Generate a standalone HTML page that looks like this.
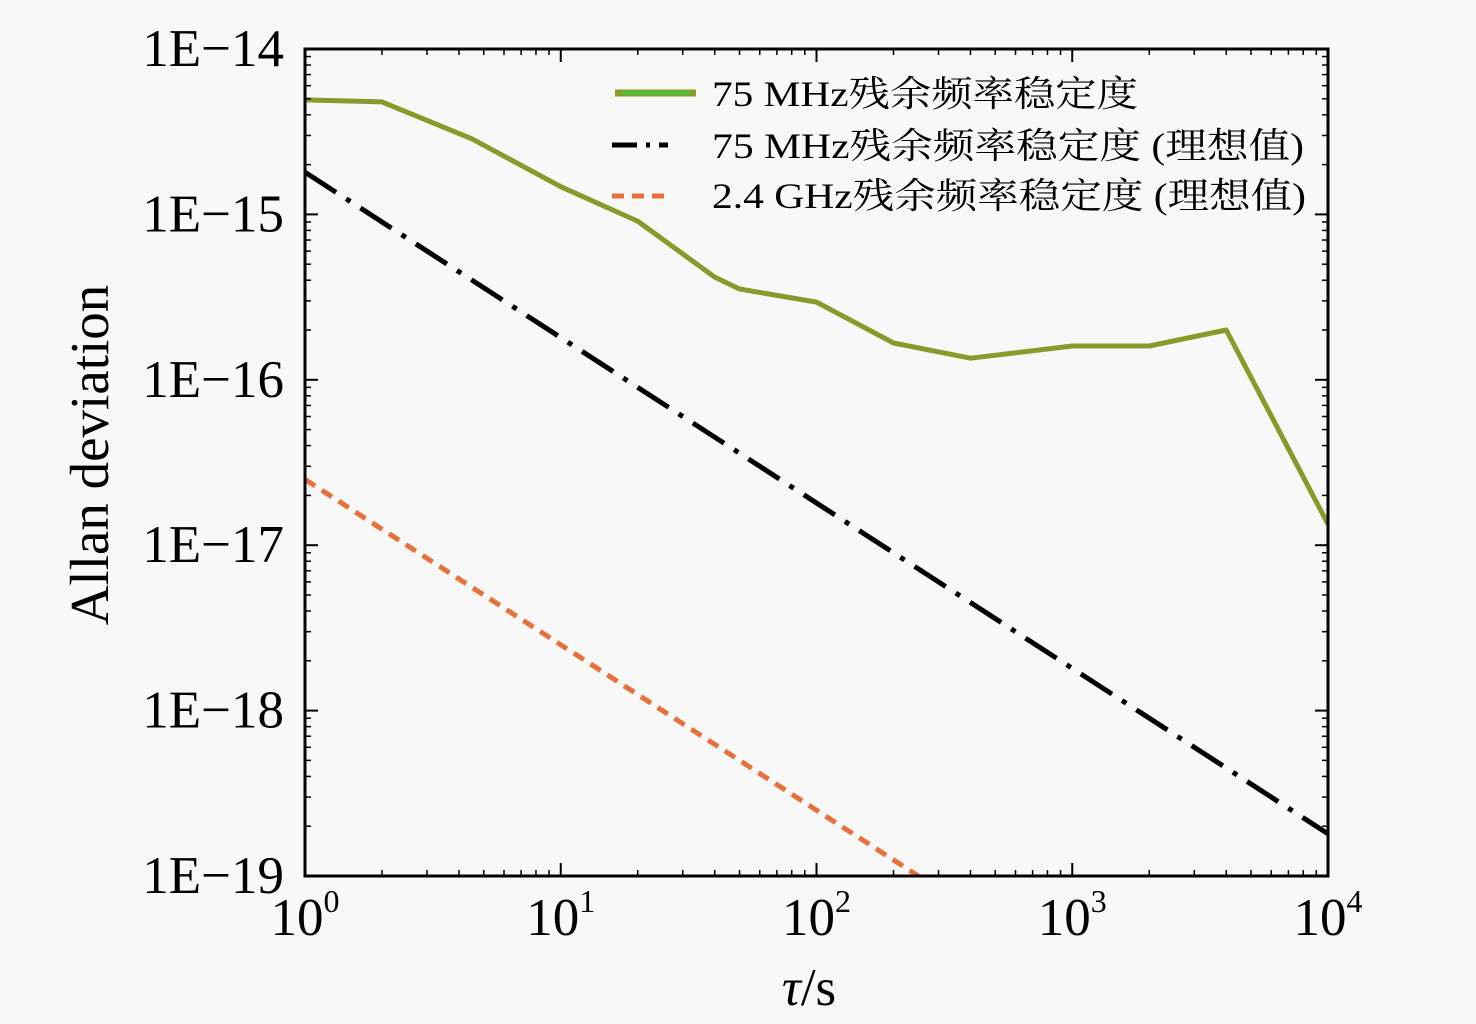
<!DOCTYPE html>
<html><head><meta charset="utf-8"><style>
html,body{margin:0;padding:0;background:#f8f8f8;}
svg{display:block;font-family:"Liberation Serif","Noto Serif CJK SC",serif;}
</style></head><body>
<svg id="chart" width="1476" height="1024" viewBox="0 0 1476 1024">
<rect x="0" y="0" width="1476" height="1024" fill="#f8f8f8"/>
<g id="marks"></g>
<g id="axes"></g>
<g id="legend">
  <g>
    <line x1="615" y1="93" x2="696" y2="93" stroke="#8a9a2a" stroke-width="7"/>
    <line x1="622" y1="93" x2="690" y2="93" stroke="#4fbf3a" stroke-width="4"/>
    <text x="712" y="106" font-size="36" textLength="426" lengthAdjust="spacingAndGlyphs">75 MHz残余频率稳定度</text>
  </g>
  <g>
    <line x1="612" y1="145" x2="668" y2="145" stroke="#000" stroke-width="5" stroke-dasharray="25 9 4 9"/>
    <text x="712" y="158" font-size="36" textLength="592" lengthAdjust="spacingAndGlyphs">75 MHz残余频率稳定度 (理想值)</text>
  </g>
  <g>
    <line x1="612" y1="196" x2="666" y2="196" stroke="#e8703a" stroke-width="5" stroke-dasharray="12 8"/>
    <text x="712" y="208" font-size="36" textLength="594" lengthAdjust="spacingAndGlyphs">2.4 GHz残余频率稳定度 (理想值)</text>
  </g>
</g>
</svg>
<script>
const measuredTau = [1, 2, 4.5, 10, 20, 40, 50, 100, 200, 400, 1000, 2000, 4000, 10000];
const measuredDev = [4.92e-15, 4.79e-15, 2.86e-15, 1.47e-15, 9.1e-16, 4.18e-16, 3.54e-16, 2.95e-16, 1.67e-16, 1.35e-16, 1.6e-16, 1.6e-16, 2.0e-16, 1.34e-17];
const ideal75Tau = [1, 10, 100, 1000, 10000];
const ideal75Dev = [1.8e-15, 1.8e-16, 1.8e-17, 1.8e-18, 1.8e-19];
const ideal24Tau = [1, 10, 100, 250];
const ideal24Dev = [2.5e-17, 2.5e-18, 2.5e-19, 1.0e-19];
const xTickExps = [0, 1, 2, 3, 4];
const yTickLabels = ["1E\u221214", "1E\u221215", "1E\u221216", "1E\u221217", "1E\u221218", "1E\u221219"];
const yTickExps = [-14, -15, -16, -17, -18, -19];

const L = 305, R = 1328, T = 49, B = 876;
const xMin = 0, xMax = 4, yMin = -19, yMax = -14;
function xs(v){ return L + (Math.log10(v) - xMin) / (xMax - xMin) * (R - L); }
function ys(v){ return B - (Math.log10(v) - yMin) / (yMax - yMin) * (B - T); }
const NS = "http://www.w3.org/2000/svg";
function mk(tag, attrs, parent){ const e = document.createElementNS(NS, tag); for (const k in attrs) e.setAttribute(k, attrs[k]); parent.appendChild(e); return e; }

const marks = document.getElementById('marks');
const clip = mk('clipPath', {id: 'plotclip'}, marks);
mk('rect', {x: L, y: T, width: R - L, height: B - T}, clip);
const mg = mk('g', {'clip-path': 'url(#plotclip)'}, marks);
function pts(t, d){ return t.map((v, i) => xs(v).toFixed(1) + ',' + ys(d[i]).toFixed(1)).join(' '); }

const l1 = mk('polyline', {points: pts(measuredTau, measuredDev), fill: 'none', stroke: '#8a9a2a', 'stroke-width': 5, 'stroke-linejoin': 'round'}, mg);


const l2 = mk('polyline', {points: pts(ideal75Tau, ideal75Dev), fill: 'none', stroke: '#000', 'stroke-width': 5, 'stroke-dasharray': '37 12 5 12'}, mg);


const l3 = mk('polyline', {points: pts(ideal24Tau, ideal24Dev), fill: 'none', stroke: '#e8703a', 'stroke-width': 5, 'stroke-dasharray': '12 8'}, mg);



const ax = document.getElementById('axes');
const frame = mk('rect', {x: L, y: T, width: R - L, height: B - T, fill: 'none', stroke: '#000', 'stroke-width': 3}, ax);


for (let e = xMin; e <= xMax; e++) {
  const x = xs(Math.pow(10, e));
  mk('line', {x1: x, y1: B, x2: x, y2: B - 13, stroke: '#000', 'stroke-width': 2}, ax);
  mk('line', {x1: x, y1: T, x2: x, y2: T + 13, stroke: '#000', 'stroke-width': 2}, ax);
  if (e < xMax) for (let m = 2; m <= 9; m++) {
    const xm = xs(m * Math.pow(10, e));
    mk('line', {x1: xm, y1: B, x2: xm, y2: B - 6, stroke: '#000', 'stroke-width': 1.5}, ax);
    mk('line', {x1: xm, y1: T, x2: xm, y2: T + 6, stroke: '#000', 'stroke-width': 1.5}, ax);
  }
}
xTickExps.forEach(e => {
  const x = xs(Math.pow(10, e));
  const t = mk('text', {x: x, y: 935, 'font-size': 53, 'text-anchor': 'middle'}, ax);
  
  
  t.textContent = '10';
  const s = mk('tspan', {dy: -23, 'font-size': 32}, t);
  s.textContent = String(e);
});
for (let e = yMin; e <= yMax; e++) {
  const y = ys(Math.pow(10, e));
  mk('line', {x1: L, y1: y, x2: L + 13, y2: y, stroke: '#000', 'stroke-width': 2}, ax);
  mk('line', {x1: R, y1: y, x2: R - 13, y2: y, stroke: '#000', 'stroke-width': 2}, ax);
  if (e < yMax) for (let m = 2; m <= 9; m++) {
    const ym = ys(m * Math.pow(10, e));
    mk('line', {x1: L, y1: ym, x2: L + 6, y2: ym, stroke: '#000', 'stroke-width': 1.5}, ax);
    mk('line', {x1: R, y1: ym, x2: R - 6, y2: ym, stroke: '#000', 'stroke-width': 1.5}, ax);
  }
}
yTickExps.forEach((e, i) => {
  const y = ys(Math.pow(10, e));
  const t = mk('text', {x: 284, y: y + 17, 'font-size': 53, 'text-anchor': 'end'}, ax);
  
  
  t.textContent = yTickLabels[i];
});
const xt = mk('text', {x: 809, y: 1005, 'font-size': 53, 'text-anchor': 'middle'}, ax);


const ta = mk('tspan', {'font-style': 'italic'}, xt); ta.textContent = 'τ';
const tb = mk('tspan', {}, xt); tb.textContent = '/s';
const yt = mk('text', {x: 0, y: 0, 'font-size': 55, 'text-anchor': 'middle', transform: 'translate(108,455) rotate(-90)'}, ax);


yt.textContent = 'Allan deviation';
</script>
</body></html>
